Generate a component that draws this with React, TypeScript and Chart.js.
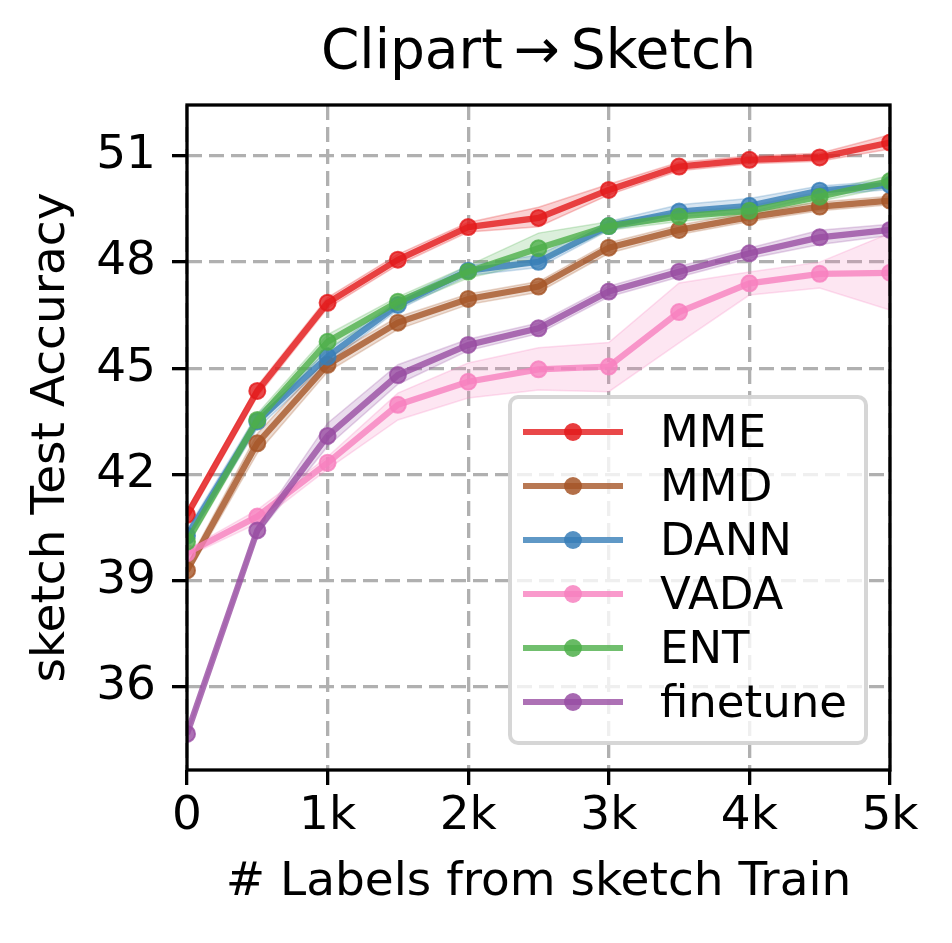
import React, { useEffect, useRef } from "react";
import { Chart, registerables } from "chart.js";

Chart.register(...registerables);

const labelCounts = [0, 500, 1000, 1500, 2000, 2500, 3000, 3500, 4000, 4500, 5000];
const xTicks = [0, 1000, 2000, 3000, 4000, 5000];
const xTickLabels = ["0", "1k", "2k", "3k", "4k", "5k"];
const yTicks = [36, 39, 42, 45, 48, 51];

const seriesNames = ["MME", "MMD", "DANN", "VADA", "ENT", "finetune"];
const seriesColors = ["228,26,28", "166,86,40", "55,126,184", "247,129,191", "77,175,74", "152,78,163"];

const mme = [40.86, 44.36, 46.85, 48.07, 48.99, 49.25, 50.04, 50.7, 50.89, 50.96, 51.38];
const mmeLow = [40.7, 44.2, 46.7, 47.92, 48.85, 49.0, 49.9, 50.58, 50.78, 50.85, 51.2];
const mmeHigh = [41.0, 44.5, 47.0, 48.22, 49.12, 49.55, 50.2, 50.82, 51.0, 51.08, 51.6];

const mmd = [39.29, 42.88, 45.1, 46.29, 46.96, 47.31, 48.41, 48.91, 49.27, 49.57, 49.74];
const mmdLow = [39.15, 42.6, 44.9, 46.1, 46.8, 47.15, 48.25, 48.78, 49.15, 49.45, 49.62];
const mmdHigh = [39.45, 43.15, 45.3, 46.45, 47.1, 47.45, 48.55, 49.05, 49.4, 49.7, 49.86];

const dann = [40.27, 43.5, 45.33, 46.79, 47.76, 48.01, 49.02, 49.43, 49.59, 50.02, 50.18];
const dannLow = [40.1, 43.3, 45.15, 46.65, 47.62, 47.85, 48.9, 49.28, 49.4, 49.88, 50.05];
const dannHigh = [40.45, 43.7, 45.5, 46.93, 47.9, 48.2, 49.15, 49.62, 49.8, 50.15, 50.3];

const vada = [39.78, 40.81, 42.33, 43.97, 44.62, 44.97, 45.05, 46.59, 47.4, 47.67, 47.7];
const vadaLow = [39.68, 40.62, 42.15, 43.54, 44.16, 44.39, 44.34, 45.72, 47.07, 47.27, 46.65];
const vadaHigh = [39.88, 41.0, 42.5, 44.3, 45.15, 45.58, 45.73, 47.41, 47.72, 48.0, 48.82];

const ent = [40.1, 43.54, 45.75, 46.88, 47.73, 48.39, 49.02, 49.29, 49.45, 49.85, 50.29];
const entLow = [39.95, 43.35, 45.55, 46.72, 47.55, 48.0, 48.9, 49.15, 49.32, 49.72, 50.12];
const entHigh = [40.25, 43.72, 45.95, 47.02, 47.9, 48.82, 49.14, 49.42, 49.58, 49.98, 50.45];

const finetune = [34.67, 40.42, 43.09, 44.81, 45.66, 46.13, 47.17, 47.73, 48.25, 48.7, 48.91];
const finetuneLow = [34.6, 40.3, 42.8, 44.55, 45.5, 45.98, 47.02, 47.58, 48.1, 48.5, 48.75];
const finetuneHigh = [34.75, 40.55, 43.45, 45.1, 45.82, 46.28, 47.32, 47.88, 48.4, 48.9, 49.07];

const means = [mme, mmd, dann, vada, ent, finetune];
const lows = [mmeLow, mmdLow, dannLow, vadaLow, entLow, finetuneLow];
const highs = [mmeHigh, mmdHigh, dannHigh, vadaHigh, entHigh, finetuneHigh];

const FONT = "'DejaVu Sans', sans-serif";

const toPoints = (vals: number[]) => vals.map((y, i) => ({ x: labelCounts[i], y }));

// black box around the plot area (all four spines)
const framePlugin = {
  id: "frame",
  afterDatasetsDraw(chart: any) {
    const { ctx, chartArea } = chart;
    ctx.save();
    ctx.strokeStyle = "#000";
    ctx.lineWidth = 3.3;
    ctx.strokeRect(chartArea.left, chartArea.top, chartArea.right - chartArea.left, chartArea.bottom - chartArea.top);
    ctx.restore();
  },
};

const AccuracyChart: React.FC = () => {
  const chartRef = useRef<HTMLCanvasElement | null>(null);

  useEffect(() => {
    if (!chartRef.current) return;
    const ctx = chartRef.current.getContext("2d");
    if (!ctx) return;

    const datasets: any[] = [];
    // shaded bands first (drawn underneath)
    seriesNames.forEach((name, i) => {
      const c = seriesColors[i];
      datasets.push({
        label: name + " low",
        data: toPoints(lows[i]),
        borderColor: `rgba(${c},0.25)`,
        borderWidth: 1.5,
        pointRadius: 0,
        fill: false,
        order: 20,
        clip: 0,
      });
      datasets.push({
        label: name + " high",
        data: toPoints(highs[i]),
        borderColor: `rgba(${c},0.25)`,
        backgroundColor: `rgba(${c},0.2)`,
        borderWidth: 1.5,
        pointRadius: 0,
        fill: "-1",
        order: 20,
        clip: 0,
      });
    });
    seriesNames.forEach((name, i) => {
      const c = seriesColors[i];
      datasets.push({
        label: name,
        data: toPoints(means[i]),
        borderColor: `rgba(${c},0.8)`,
        backgroundColor: `rgba(${c},0.8)`,
        borderWidth: 6.25,
        pointRadius: 8,
        pointBorderWidth: 2,
        pointBorderColor: `rgba(${c},0.8)`,
        pointBackgroundColor: `rgba(${c},0.8)`,
        fill: false,
        order: 6 - i,
        clip: 0,
      });
    });

    const chart = new Chart(ctx, {
      type: "line",
      data: { datasets },
      options: {
        animation: false,
        responsive: false,
        layout: { padding: { left: 0, right: 62, top: 0, bottom: 0 } },
        plugins: {
          legend: { display: false },
          tooltip: { enabled: false },
          title: {
            display: true,
            fullSize: false,
            text: "Clipart\u2009\u2192\u2009Sketch",
            color: "#000",
            font: { family: FONT, size: 55, weight: "normal" },
            padding: { top: 21, bottom: 18 },
          },
        },
        scales: {
          x: {
            type: "linear",
            min: 0,
            max: 5000,
            afterBuildTicks: (scale: any) => {
              scale.ticks = xTicks.map((v) => ({ value: v }));
            },
            afterFit: (scale: any) => {
              scale.height = 173;
            },
            ticks: {
              color: "#000",
              font: { family: FONT, size: 47 },
              padding: 4,
              maxRotation: 0,
              autoSkip: false,
              callback: (v: any) => xTickLabels[xTicks.indexOf(Number(v))] ?? "",
            },
            grid: {
              color: "#b0b0b0",
              lineWidth: 3.3,
              tickLength: 15,
              tickColor: "#000",
              tickWidth: 3.3,
              tickBorderDash: [],
            },
            border: { display: false, dash: [15, 7] },
            title: {
              display: true,
              text: "# Labels from sketch Train",
              color: "#000",
              font: { family: FONT, size: 47 },
              padding: { top: 0, bottom: 32 },
            },
          },
          y: {
            type: "linear",
            min: 33.65,
            max: 52.44,
            afterBuildTicks: (scale: any) => {
              scale.ticks = yTicks.map((v) => ({ value: v }));
            },
            afterFit: (scale: any) => {
              scale.width = 187;
            },
            ticks: {
              color: "#000",
              font: { family: FONT, size: 47 },
              padding: 16,
              autoSkip: false,
            },
            grid: {
              color: "#b0b0b0",
              lineWidth: 3.3,
              tickLength: 15,
              tickColor: "#000",
              tickWidth: 3.3,
              tickBorderDash: [],
            },
            border: { display: false, dash: [15, 7] },
            title: {
              display: true,
              text: "sketch Test Accuracy",
              color: "#000",
              font: { family: FONT, size: 47 },
              padding: { top: 24, bottom: 0 },
            },
          },
        },
      },
      plugins: [framePlugin],
    });

    return () => {
      chart.destroy();
    };
  }, []);

  return <canvas ref={chartRef} width={952} height={943} style={{ display: "block" }} />;
};

const Legend: React.FC = () => (
  <div
    style={{
      position: "absolute",
      left: 508,
      top: 395,
      width: 360,
      height: 350,
      boxSizing: "border-box",
      border: "4px solid rgba(204,204,204,0.8)",
      borderRadius: 10,
      background: "rgba(255,255,255,0.8)",
      fontFamily: FONT,
    }}
  >
    {seriesNames.map((name, i) => (
      <div key={name} style={{ position: "absolute", left: 0, top: 6 + i * 54, width: 352, height: 54 }}>
        <div
          style={{
            position: "absolute",
            left: 11,
            top: 24,
            width: 100,
            height: 6,
            background: `rgba(${seriesColors[i]},0.8)`,
          }}
        />
        <div
          style={{
            position: "absolute",
            left: 52,
            top: 18,
            width: 18,
            height: 18,
            borderRadius: "50%",
            background: `rgba(${seriesColors[i]},0.85)`,
          }}
        />
        <div
          style={{
            position: "absolute",
            left: 148,
            top: 0,
            height: 54,
            lineHeight: "54px",
            fontSize: 45,
            color: "#000",
            whiteSpace: "nowrap",
          }}
        >
          {name}
        </div>
      </div>
    ))}
  </div>
);

export default function App() {
  return (
    <div style={{ position: "fixed", left: 0, top: 0, width: 952, height: 943, background: "#fff" }}>
      <AccuracyChart />
      <Legend />
    </div>
  );
}
